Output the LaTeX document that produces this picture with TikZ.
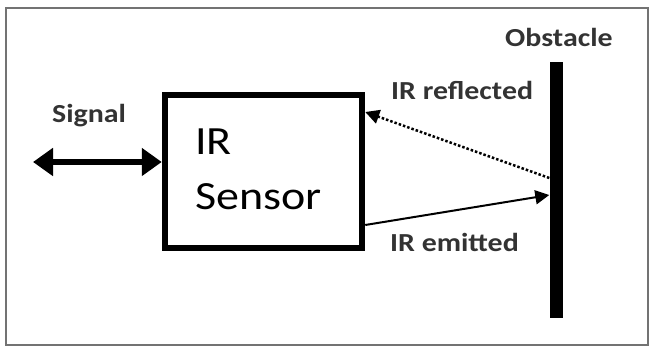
\documentclass[tikz,border=0pt]{standalone}
\usepackage{fontspec}
\setmainfont{Carlito}[FakeStretch=1.15]
\usetikzlibrary{arrows.meta,positioning}

\tikzset{
	etiqueta/.style={anchor=base west, inner sep=0pt, text=black!80,
		font=\bfseries\fontsize{26}{30}\selectfont},
	grande/.style={anchor=base west, inner sep=0pt,
		font=\fontsize{40}{48}\selectfont},
	rayo/.style={line width=2pt, -{Triangle[length=14pt,width=14pt]}}
}

\begin{document}
	\begin{tikzpicture}[x=1pt, y=-1pt]
		\useasboundingbox (0,0) rectangle (649,347);
		\draw[black!55, line width=1.5pt] (6,8) rectangle (648,345); % marco
		
		\node[draw, line width=6.5pt, minimum width=197pt, minimum height=153pt,
			inner sep=0pt] (sensor) at (263.5,171.5) {};
		\node[grande] (ir) at (195,155) {IR};
		\node[grande] (nombre) at (195,210) {Sensor};
		
		\node[fill, inner sep=0pt, minimum width=13pt, minimum height=256pt]
			(obstaculo) at (556,190) {};
		\node[etiqueta] (titulo) at (505,47) {Obstacle};
		
		\coordinate (senal) at (33,162);
		\node[etiqueta] (textosenal) at (52,123) {Signal};
		\draw[line width=6.5pt, {Triangle[length=20pt,width=27pt]}-{Triangle[length=20pt,width=27pt]}]
			(senal) -- (sensor.west |- senal);
		
		% rayos hacia y desde el obstaculo
		\draw[rayo] (sensor.east |- 0,225) -- (obstaculo.west |- 0,195);
		\draw[rayo, dash pattern=on 2.5pt off 2pt, line width=2.5pt]
			(obstaculo.west |- 0,178) -- (sensor.east |- 0,112);
		\node[etiqueta] (refleja) at (391,100) {IR reflected};
		\node[etiqueta] (emite) at (390,252) {IR emitted};
	\end{tikzpicture}
\end{document}
